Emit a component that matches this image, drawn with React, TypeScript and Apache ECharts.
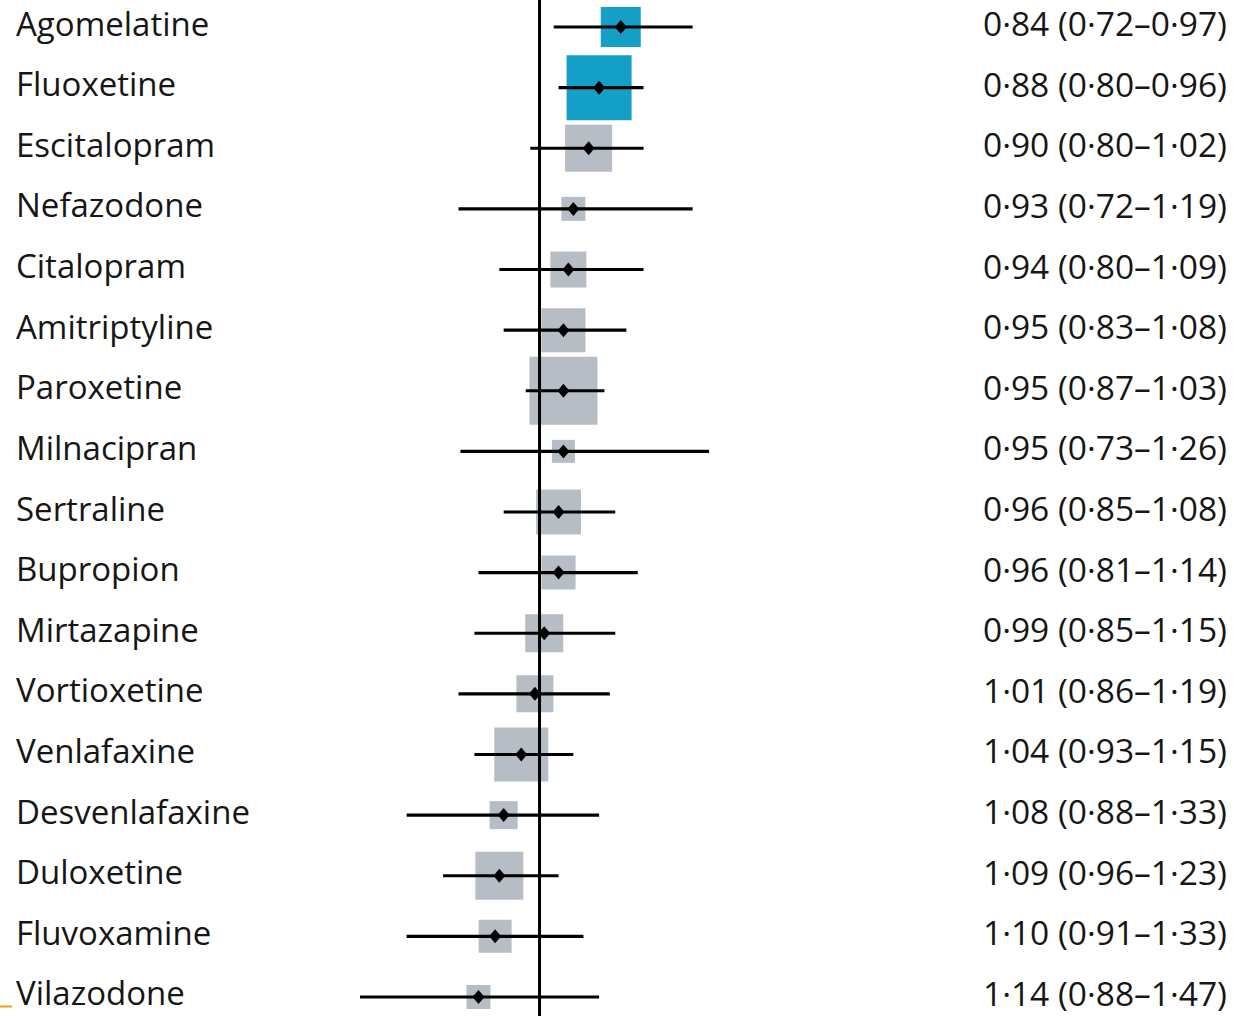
import React, { useEffect, useRef } from "react";
import * as echarts from "echarts";

const drugs = [
  "Agomelatine", "Fluoxetine", "Escitalopram", "Nefazodone", "Citalopram",
  "Amitriptyline", "Paroxetine", "Milnacipran", "Sertraline", "Bupropion",
  "Mirtazapine", "Vortioxetine", "Venlafaxine", "Desvenlafaxine", "Duloxetine",
  "Fluvoxamine", "Vilazodone",
];
// Printed odds ratios (95% CI), as written in the right-hand column
const ciText = [
  "0·84 (0·72–0·97)", "0·88 (0·80–0·96)", "0·90 (0·80–1·02)", "0·93 (0·72–1·19)",
  "0·94 (0·80–1·09)", "0·95 (0·83–1·08)", "0·95 (0·87–1·03)", "0·95 (0·73–1·26)",
  "0·96 (0·85–1·08)", "0·96 (0·81–1·14)", "0·99 (0·85–1·15)", "1·01 (0·86–1·19)",
  "1·04 (0·93–1·15)", "1·08 (0·88–1·33)", "1·09 (0·96–1·23)", "1·10 (0·91–1·33)",
  "1·14 (0·88–1·47)",
];
// Plotted values
const estimates = [0.84, 0.88, 0.90, 0.93, 0.94, 0.95, 0.95, 0.95, 0.96, 0.96, 0.99, 1.01, 1.04, 1.08, 1.09, 1.10, 1.14];
const lower = [0.72, 0.80, 0.80, 0.72, 0.80, 0.83, 0.87, 0.695, 0.85, 0.81, 0.85, 0.86, 0.93, 0.88, 0.96, 0.91, 0.88];
const upper = [0.97, 0.96, 1.02, 1.19, 1.09, 1.08, 1.03, 1.185, 1.08, 1.14, 1.15, 1.19, 1.15, 1.33, 1.23, 1.33, 1.47];
const weights = [40, 65, 47, 24, 36, 44, 68, 23, 45, 34, 38, 37, 54, 28, 48, 33, 24];
const significant = [true, true, false, false, false, false, false, false, false, false, false, false, false, false, false, false, false];
const referenceValue = [1];

const TEAL = "#149fc6";
const GREY = "#b6bdc4";
const FONT = "'Open Sans', 'Noto Sans', sans-serif";

export default function App() {
  const ref = useRef<HTMLDivElement>(null);
  useEffect(() => {
    if (!ref.current) return;
    const chart = echarts.init(ref.current, null, { renderer: "svg" });
    const option: any = {
      animation: false,
      backgroundColor: "#ffffff",
      grid: { left: 27.6, right: 278.5, top: 0.69, bottom: 0.69, containLabel: false },
      xAxis: {
        type: "log",
        logBase: 10,
        min: 0.4,
        max: 3,
        inverse: true,
        show: false,
      },
      yAxis: [
        {
          type: "category",
          data: drugs,
          inverse: true,
          position: "left",
          axisLine: { show: false },
          axisTick: { show: false },
          splitLine: { show: false },
          axisLabel: {
            align: "left",
            verticalAlign: "bottom",
            lineHeight: 8,
            margin: 11.6,
            fontFamily: FONT,
            fontSize: 33,
            color: "#161616",
          },
        },
        {
          type: "category",
          data: ciText,
          inverse: true,
          position: "right",
          axisLine: { show: false },
          axisTick: { show: false },
          splitLine: { show: false },
          axisLabel: {
            align: "left",
            verticalAlign: "bottom",
            lineHeight: 8,
            margin: 16.5,
            fontFamily: FONT,
            fontSize: 33.5,
            color: "#161616",
          },
        },
      ],
      series: [
        {
          type: "scatter",
          name: "weight",
          yAxisIndex: 0,
          symbol: "rect",
          z: 1,
          data: drugs.map((d, i) => ({
            value: [estimates[i], i],
            symbolSize: weights[i],
            itemStyle: { color: significant[i] ? TEAL : GREY, opacity: 1 },
          })),
        },
        {
          type: "custom",
          name: "reference",
          yAxisIndex: 0,
          z: 2,
          data: referenceValue.map((v) => [v, 0]),
          renderItem: (params: any, api: any) => {
            const p = api.coord([api.value(0), 0]);
            const cs = params.coordSys;
            return {
              type: "line",
              shape: { x1: p[0], y1: cs.y, x2: p[0], y2: cs.y + cs.height },
              style: { stroke: "#000000", lineWidth: 3 },
            };
          },
        },
        {
          type: "custom",
          name: "ci",
          yAxisIndex: 0,
          z: 3,
          data: drugs.map((d, i) => [lower[i], i, upper[i]]),
          renderItem: (params: any, api: any) => {
            const y = api.value(1);
            const p1 = api.coord([api.value(0), y]);
            const p2 = api.coord([api.value(2), y]);
            return {
              type: "line",
              shape: { x1: p1[0], y1: p1[1], x2: p2[0], y2: p2[1] },
              style: { stroke: "#000000", lineWidth: 3.2 },
            };
          },
        },
        {
          type: "scatter",
          name: "estimate",
          yAxisIndex: 0,
          symbol: "diamond",
          symbolSize: [12, 14],
          z: 4,
          itemStyle: { color: "#000000", opacity: 1 },
          data: drugs.map((d, i) => [estimates[i], i]),
        },
      ],
      graphic: [
        {
          type: "line",
          shape: { x1: 0, y1: 1010.5, x2: 12, y2: 1010.5 },
          style: { stroke: "#f0a30a", lineWidth: 2 },
        },
      ],
    };
    chart.setOption(option);
    return () => chart.dispose();
  }, []);
  return (
    <div
      ref={ref}
      style={{ position: "fixed", left: 0, top: -4, width: 1245, height: 1032, background: "#fff" }}
    />
  );
}
